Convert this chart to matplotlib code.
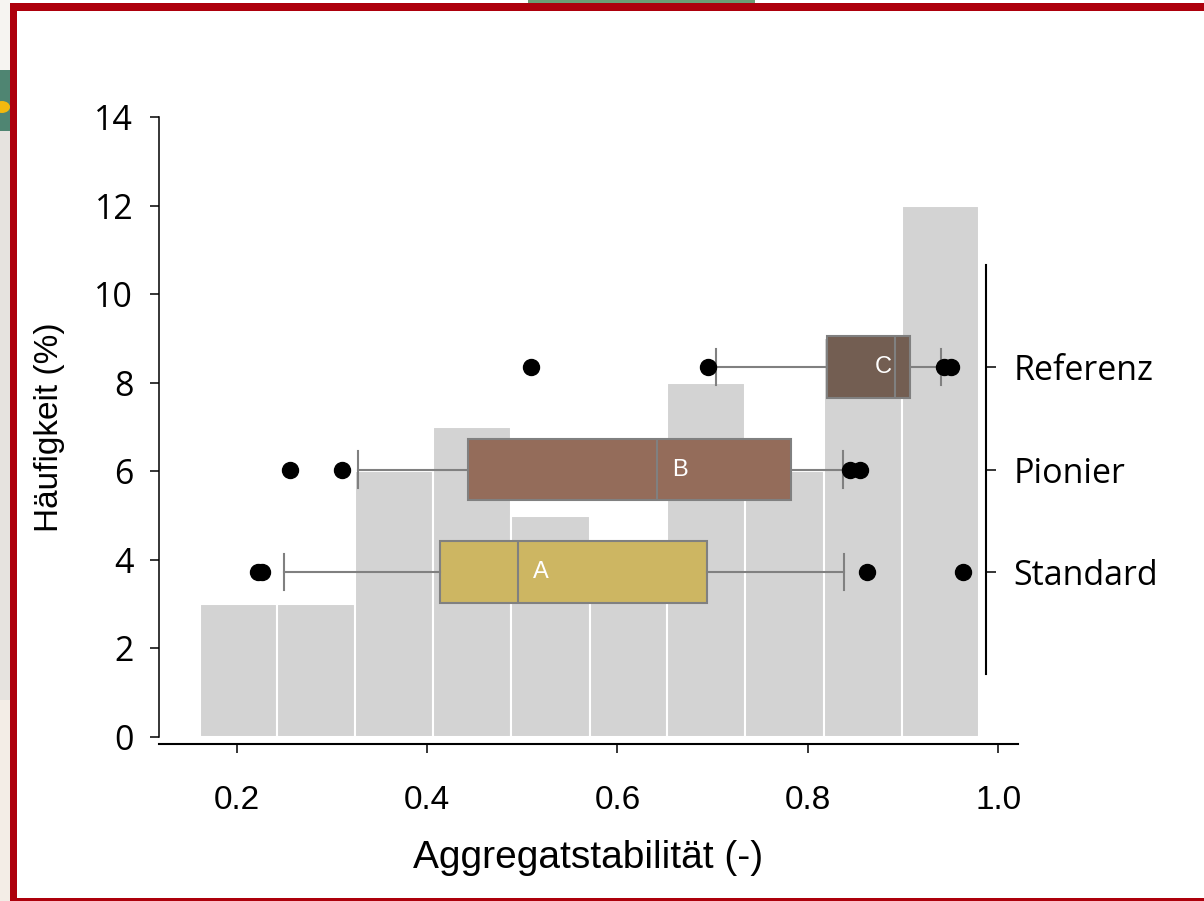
import matplotlib.pyplot as plt
from matplotlib.patches import Rectangle, Circle
import numpy as np

# histogram of all samples (percent per bin)
bin_edges = [0.161, 0.242, 0.324, 0.406, 0.488, 0.571, 0.652, 0.734, 0.817, 0.899, 0.980]
freq = [3, 3, 6, 7, 5, 4, 8, 6, 9, 12]

# boxplot summary per management group
groups = ['Standard', 'Pionier', 'Referenz']
letters = ['A', 'B', 'C']
letter_x = [0.52, 0.666, 0.879]
whis_lo = [0.250, 0.327, 0.703]
q1 = [0.414, 0.443, 0.820]
med = [0.496, 0.641, 0.892]
q3 = [0.694, 0.782, 0.907]
whis_hi = [0.838, 0.837, 0.940]
outliers = [[0.222, 0.227, 0.862, 0.963],
            [0.256, 0.311, 0.844, 0.855],
            [0.509, 0.695, 0.943, 0.950]]
box_colors = ['#cdb662', '#946c5a', '#735e52']

W, H = 1204, 901


def rect(fig, x0, y0, x1, y1, color):
    # pixel coords, origin top-left
    fig.add_artist(Rectangle((x0 / W, 1 - y1 / H), (x1 - x0) / W, (y1 - y0) / H,
                             transform=fig.transFigure, color=color, lw=0, zorder=-5))


fig = plt.figure(figsize=(W / 100, H / 100), dpi=100)

# slide background bits around the frame
rect(fig, 0, 0, 10, 70, '#f6f4f1')
rect(fig, 0, 70, 10, 131, '#4f8572')
rect(fig, 0, 131, 10, 700, '#e6e3df')
rect(fig, 0, 700, 10, 901, '#f3ede6')
fig.add_artist(Circle((2 / W, 1 - 107 / H), 8 / W, transform=fig.transFigure,
                      color='#f2b90f', lw=0, zorder=-4))
rect(fig, 528, 0, 755, 3.5, '#6a9e74')
rect(fig, 9.5, 3, W, 10.5, '#ad000c')
rect(fig, 9.5, 3, 17, H, '#ad000c')
rect(fig, 9.5, 898, W, H, '#ad000c')

ax = fig.add_axes([159 / W, 1 - 737 / H, (1018 - 159) / W, (737 - 117) / H])
ax.bar(bin_edges[:-1], freq, width=np.diff(bin_edges), align='edge',
       color='#d3d3d3', edgecolor='white', linewidth=1.5)
ax.set_xlim(0.1184, 1.0207)
ax.set_ylim(0, 14)
for s in ['top', 'right']:
    ax.spines[s].set_visible(False)
ax.spines['left'].set_linewidth(1.1)
ax.spines['bottom'].set_linewidth(1.5)
ax.spines['bottom'].set_position(('outward', 5))
ax.set_xlabel('Aggregatstabilität (-)', family='Liberation Sans', fontsize=28)
ax.xaxis.set_label_coords(0.5, -0.166)
ax.set_ylabel('Häufigkeit (%)', family='Liberation Sans', fontsize=24)
ax.yaxis.set_label_coords(-0.1094, 0.5)

# boxplots on a second axis sharing x
ax2 = ax.twinx()
stats = []
for i in range(len(groups)):
    stats.append(dict(whislo=whis_lo[i], q1=q1[i], med=med[i], q3=q3[i],
                      whishi=whis_hi[i], fliers=outliers[i]))
bp = ax2.bxp(stats, positions=[1, 2, 3], widths=0.6, capwidths=0.36,
             orientation='horizontal', patch_artist=True,
             boxprops=dict(edgecolor='#808080', linewidth=1.5),
             medianprops=dict(color='#808080', linewidth=1.5),
             whiskerprops=dict(color='#808080', linewidth=1.5),
             capprops=dict(color='#808080', linewidth=1.5),
             flierprops=dict(marker='o', markerfacecolor='black',
                             markeredgecolor='black', markersize=11.5))
for patch, c in zip(bp['boxes'], box_colors):
    patch.set_facecolor(c)
for i, lab in enumerate(letters):
    ax2.text(letter_x[i], i + 1, lab, color='white', fontsize=17,
             family='Liberation Sans', ha='center', va='center')

ax2.set_ylim(-0.61, 5.44)
ax2.set_xlim(0.1184, 1.0207)
ax2.set_yticks([1, 2, 3])
ax2.set_yticklabels(groups)
for s in ['top', 'left', 'bottom']:
    ax2.spines[s].set_visible(False)
ax2.spines['right'].set_position(('axes', 0.9627))
ax2.spines['right'].set_bounds(0, 4)
ax2.spines['right'].set_linewidth(1.5)

# ticks last, so nothing resets them
ax.set_xticks([0.2, 0.4, 0.6, 0.8, 1.0])
ax.set_xticklabels(['0.2', '0.4', '0.6', '0.8', '1.0'])
ax.set_yticks(range(0, 15, 2))
ax.tick_params(axis='x', length=6.5, width=1.1, pad=23, labelsize=24,
               labelfontfamily='Liberation Sans')
ax.tick_params(axis='y', length=6.5, width=1.1, pad=12, labelsize=24.5,
               labelfontfamily='Open Sans')
ax2.tick_params(axis='y', length=7, width=1.1, pad=13, labelsize=24.5,
                labelfontfamily='Open Sans')

fig.savefig('out.png', dpi=100)
